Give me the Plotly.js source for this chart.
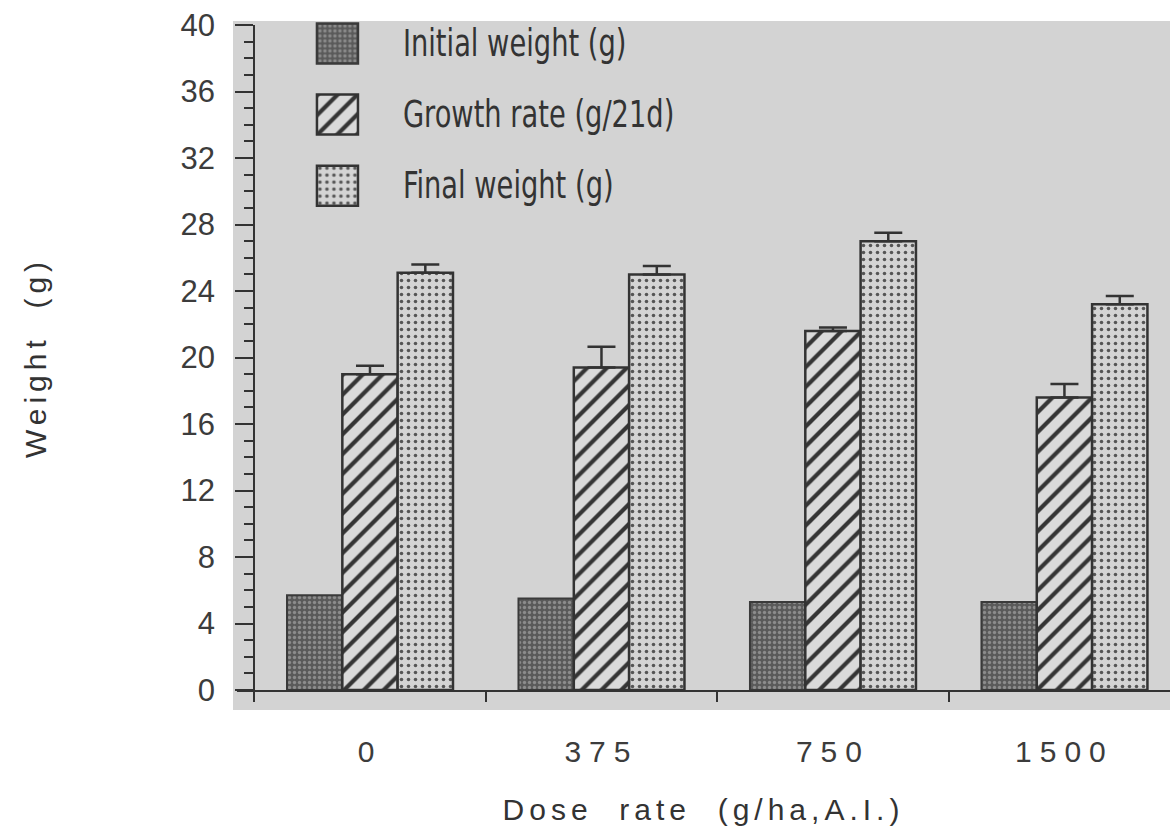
<!DOCTYPE html>
<html>
<head>
<meta charset="utf-8">
<script src="https://cdn.plot.ly/plotly-3.0.1.min.js"></script>
<style>
  html, body { margin: 0; padding: 0; background: #fff; }
  #chart { width: 1170px; height: 835px; }
  .xtick text { letter-spacing: 8px; }
  .g-xtitle text { letter-spacing: 5px; }
  .g-ytitle text { letter-spacing: 5px; }
  .legendtext { transform-box: fill-box; transform-origin: 0% 50%; transform: scaleX(0.82); }
</style>
</head>
<body>
<div id="chart"></div>
<script>
// ---- data ----
const doseRates = ['0', '375', '750', '1500'];
const initialWeight = [5.7, 5.5, 5.3, 5.3];
const growthRate = [19.0, 19.4, 21.6, 17.6];
const growthRateErr = [0.5, 1.25, 0.2, 0.8];
const finalWeight = [25.1, 25.0, 27.0, 23.2];
const finalWeightErr = [0.5, 0.5, 0.5, 0.5];
const seriesNames = ['Initial weight (g)', 'Growth rate (g/21d)', 'Final weight (g)'];
const yTickValues = [0, 4, 8, 12, 16, 20, 24, 28, 32, 36, 40];

const ink = '#333333';
const zeros = doseRates.map(() => 0);
const errStyle = (arr) => ({
  type: 'data', symmetric: false, array: arr, arrayminus: zeros,
  color: ink, thickness: 2.5, width: 14
});

const traces = [
  {
    type: 'bar', name: seriesNames[0], x: doseRates, y: initialWeight,
    legendgroup: 'a',
    marker: {
      color: '#5a5a5a',
      line: { color: '#3a3a3a', width: 2 },
      pattern: { shape: '.', fgcolor: '#8c8c8c', bgcolor: '#5a5a5a', size: 5, solidity: 0.35, fillmode: 'replace' }
    }
  },
  {
    type: 'bar', name: seriesNames[1], x: doseRates, y: growthRate,
    legendgroup: 'b',
    error_y: errStyle(growthRateErr),
    marker: {
      color: '#dadada',
      line: { color: ink, width: 2.5 },
      pattern: { shape: '/', fgcolor: '#353535', bgcolor: '#dadada', size: 14, solidity: 0.3, fillmode: 'replace' }
    }
  },
  {
    type: 'bar', name: seriesNames[2], x: doseRates, y: finalWeight,
    legendgroup: 'c',
    error_y: errStyle(finalWeightErr),
    marker: {
      color: '#d4d4d4',
      line: { color: ink, width: 2.5 },
      pattern: { shape: '.', fgcolor: '#555555', bgcolor: '#d4d4d4', size: 7, solidity: 0.2, fillmode: 'replace' }
    }
  }
];

const layout = {
  width: 1170, height: 835,
  margin: { l: 237, r: 0, t: 25, b: 145 },
  paper_bgcolor: '#ffffff',
  plot_bgcolor: 'rgba(0,0,0,0)',
  font: { family: 'Liberation Sans, Arial, sans-serif', color: '#3c3c3c' },
  barmode: 'group',
  bargap: 0.283,
  bargroupgap: 0,
  showlegend: true,
  legend: {
    x: 0.135, y: 1.021, xanchor: 'left', yanchor: 'top',
    bgcolor: 'rgba(0,0,0,0)',
    font: { family: 'DejaVu Sans Condensed, Liberation Sans, sans-serif', size: 37, color: '#333' },
    tracegroupgap: 20,
    traceorder: 'grouped'
  },
  xaxis: {
    type: 'category',
    range: [-0.5745, 3.456],
    showline: true, linecolor: ink, linewidth: 2,
    ticks: 'outside', tickson: 'boundaries', ticklen: 10, tickwidth: 2, tickcolor: ink,
    tickfont: { size: 30, color: '#3c3c3c' },
    ticklabelstandoff: 34,
    showgrid: false, zeroline: false,
    title: { text: 'Dose\u00a0\u00a0rate\u00a0\u00a0(g/ha,A.I.)', font: { size: 30, color: '#333' }, standoff: 32 }
  },
  yaxis: {
    range: [0, 40],
    anchor: 'free', position: 0.0185,
    tickvals: yTickValues,
    showline: true, linecolor: ink, linewidth: 2,
    ticks: 'outside', ticklen: 18, tickwidth: 2, tickcolor: ink,
    minor: { dtick: 1, ticks: 'outside', ticklen: 9, tickwidth: 2, tickcolor: ink, showgrid: false },
    tickfont: { size: 31, color: '#3c3c3c' },
    ticklabelstandoff: 14,
    showgrid: false, zeroline: false,
    title: { text: 'Weight\u00a0\u00a0(g)', font: { size: 30, color: '#333' }, standoff: 124 }
  },
  shapes: [
    {
      type: 'rect', xref: 'paper', yref: 'paper', layer: 'below',
      x0: -0.0043, x1: 1, y0: -0.030, y1: 1.006,
      fillcolor: '#d3d3d3', line: { width: 0 }
    }
  ]
};

Plotly.newPlot('chart', traces, layout, { displayModeBar: false, responsive: false, staticPlot: true }).then(function (gd) {
  // make the legend swatches large like the printed key, reusing the bar fills
  const scroll = gd.querySelector('.legend .scrollbox');
  if (scroll) scroll.removeAttribute('clip-path');
  const bars = gd.querySelectorAll('.barlayer .trace.bars');
  const legendItems = gd.querySelectorAll('.legend .traces');
  legendItems.forEach(function (item, i) {
    const p = item.querySelector('.legendpoints path');
    const t = item.querySelector('text.legendtext');
    if (!p || !t) return;
    p.setAttribute('d', 'M-20.5,-20H20.5V20H-20.5Z');
    p.removeAttribute('transform');
    const barPath = bars[i] ? bars[i].querySelector('.point path') : null;
    if (barPath) {
      p.style.fill = barPath.style.fill;
      p.style.stroke = barPath.style.stroke;
      p.style.strokeWidth = '2.5px';
    }
    const tb = t.getBoundingClientRect();
    const pb = p.getBoundingClientRect();
    const targetCx = tb.left - 65.5;
    const targetCy = tb.top + tb.height * 0.5;
    const dx = targetCx - (pb.left + pb.width / 2);
    const dy = targetCy - (pb.top + pb.height / 2);
    p.setAttribute('transform', 'translate(' + dx + ',' + dy + ')');
  });
});
</script>
</body>
</html>
